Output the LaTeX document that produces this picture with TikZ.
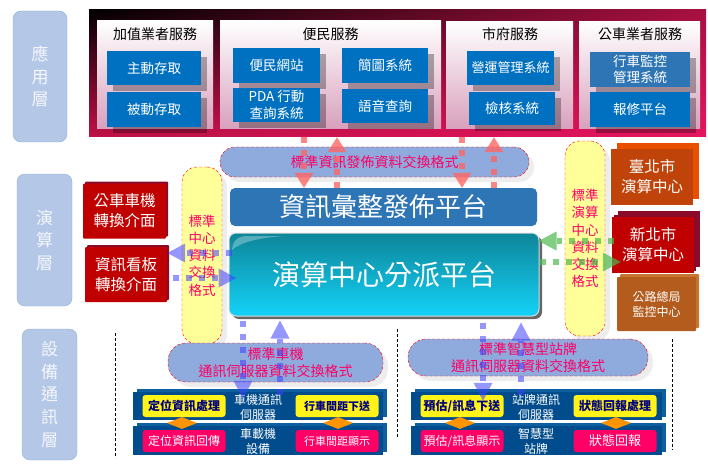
\documentclass[tikz,border=0pt]{standalone}
\usepackage{fontspec}
\setmainfont{Noto Sans CJK TC}
\usepackage{xcolor}
\usetikzlibrary{arrows.meta}
\usetikzlibrary{shadows}
\usetikzlibrary{shadings}
\usetikzlibrary{shapes.geometric}
\definecolor{layerblue}{HTML}{B4C7E7}
\definecolor{layeredge}{HTML}{8FAFD0}
\definecolor{svcblue}{HTML}{0070C0}
\definecolor{pubblue}{HTML}{2E75B6}
\definecolor{formatblue}{HTML}{8FAADC}
\definecolor{formatpink}{HTML}{FF0066}
\definecolor{padyellow}{HTML}{FFFF99}
\definecolor{barblue}{HTML}{004C8C}
\definecolor{barside}{HTML}{0D5FA0}
\definecolor{oldred}{HTML}{C00000}
\definecolor{oldredback}{HTML}{8A0A2A}
\definecolor{oldorange}{HTML}{C0440A}
\definecolor{orangeback}{HTML}{E85000}
\definecolor{oldbrown}{HTML}{B35C1E}
\definecolor{brownback}{HTML}{C9752F}
\definecolor{panelrose}{HTML}{D8A0BC}
\definecolor{bandtop}{HTML}{A81040}
\definecolor{bandleft}{HTML}{C01048}
\definecolor{bandright}{HTML}{E6155F}
\definecolor{dishtop}{HTML}{0D8599}
\definecolor{dishbot}{HTML}{14D2F8}
\tikzset{
    layerbox/.style={draw=layeredge,fill=layerblue,rounded corners=8pt,text=white!85!layerblue,align=center,inner sep=0pt,font=\fontsize{17}{22.5}\selectfont},
    panelbox/.style={top color=white,bottom color=panelrose,inner sep=0pt},
    svcbox/.style={fill=svcblue,text=white,align=center,inner sep=0pt,font=\fontsize{13.5}{16.5}\selectfont,general shadow={shadow xshift=6pt,shadow yshift=-6pt,fill=black,opacity=.3}},
    headtext/.style={inner sep=0pt,font=\fontsize{14}{16}\selectfont},
    formatpill/.style={draw=red,densely dashed,fill=formatblue,rounded corners=15pt,text=formatpink,align=center,inner sep=0pt,font=\fontsize{14}{17.5}\selectfont,general shadow={shadow xshift=5pt,shadow yshift=-5pt,fill=black,opacity=.07}},
    padbox/.style={draw=red,densely dashed,fill=padyellow,rounded corners=15pt,text=formatpink,align=center,inner sep=0pt,font=\fontsize{13.5}{17.25}\selectfont,general shadow={shadow xshift=5pt,shadow yshift=-5pt,fill=black,opacity=.07}},
    cubered/.style={fill=oldred,text=white,align=center,inner sep=0pt,rounded corners=1pt,font=\fontsize{15.5}{20}\selectfont,general shadow={shadow xshift=2pt,shadow yshift=2pt,fill=oldredback}},
    cubeorange/.style={fill=oldorange,text=white,align=center,inner sep=0pt,font=\fontsize{15.5}{20}\selectfont,general shadow={shadow xshift=6pt,shadow yshift=6pt,fill=orangeback}},
    cubebrown/.style={fill=oldbrown,text=white,align=center,inner sep=0pt,rounded corners=1pt,font=\fontsize{12}{15}\selectfont,general shadow={shadow xshift=3pt,shadow yshift=3pt,fill=brownback}},
    barbox/.style={fill=barblue,inner sep=0pt,general shadow={shadow xshift=4pt,shadow yshift=3pt,fill=barside}},
    yellowpad/.style={fill=yellow!90!white,text=blue!50!black,rounded corners=3pt,inner sep=0pt,minimum width=83pt,minimum height=22pt,font=\fontsize{12}{14}\selectfont\bfseries},
    pinkpad/.style={fill=formatpink,text=white,rounded corners=3pt,inner sep=0pt,minimum width=83pt,minimum height=22pt,font=\fontsize{12}{14}\selectfont},
    bartext/.style={text=white,align=center,inner sep=0pt,font=\fontsize{12}{15}\selectfont},
    swapmark/.style={diamond,fill=orange!85!yellow,inner sep=0pt,minimum width=30pt,minimum height=12pt},
    pinkarrow/.style={draw=red!60!white,line width=6pt,dash pattern=on 6pt off 7pt,opacity=.8,-{Triangle[length=15pt,width=19pt,line width=0pt]}},
    bluearrow/.style={draw=blue!75!white,line width=6pt,dash pattern=on 6pt off 7pt,opacity=.55,-{Triangle[length=18pt,width=19pt,line width=0pt]}},
    greenarrow/.style={draw=green!60!black!70!white,line width=6pt,dash pattern=on 6pt off 7pt,opacity=.7,-{Triangle[length=18pt,width=19pt,line width=0pt]}},
    sepline/.style={densely dashed,line width=.5pt}
}
\begin{document}
\begin{tikzpicture}[x=1pt,y=-1pt]
    \useasboundingbox (0,0) rectangle (708,473);
    \node[layerbox,minimum width=54pt,minimum height=131pt] (applayer) at (40,76.5) {應\\用\\層};
    \node[layerbox,minimum width=55pt,minimum height=132pt] (calclayer) at (44.5,240) {演\\算\\層};
    \node[layerbox,minimum width=55pt,minimum height=131pt] (devlayer) at (49.5,394.5) {設\\備\\通\\訊\\層};

    \node[inner sep=0pt,minimum width=617pt,minimum height=127pt,upper left=black,upper right=bandtop,lower left=bandleft,lower right=bandright] (svcband) at (397.5,73.5) {};
    \node[panelbox,minimum width=116pt,minimum height=108pt] (addpanel) at (155,75) {};
    \node[panelbox,minimum width=221pt,minimum height=108pt] (citizenpanel) at (330.5,75) {};
    \node[panelbox,minimum width=127pt,minimum height=107pt] (citypanel) at (509.5,75.5) {};
    \node[panelbox,minimum width=121pt,minimum height=107pt] (buspanel) at (639.5,75.5) {};
    \node[headtext] (addhead) at (155,34) {加值業者服務};
    \node[headtext] (citizenhead) at (330.5,34) {便民服務};
    \node[headtext] (cityhead) at (510,34) {市府服務};
    \node[headtext] (bushead) at (640,34) {公車業者服務};

    \node[svcbox,minimum width=94pt,minimum height=34pt] (active) at (154,68) {主動存取};
    \node[svcbox,minimum width=94pt,minimum height=35pt] (passive) at (154,109.5) {被動存取};
    \node[svcbox,minimum width=87pt,minimum height=35pt] (website) at (276.5,65.5) {便民網站};
    \node[svcbox,minimum width=87pt,minimum height=34pt] (pda) at (276.5,105) {PDA 行動\\查詢系統};
    \node[svcbox,minimum width=86pt,minimum height=35pt] (simple) at (385,65.5) {簡圖系統};
    \node[svcbox,minimum width=86pt,minimum height=34pt] (voice) at (385,106) {語音查詢};
    \node[svcbox,font=\fontsize{13}{16.5}\selectfont,minimum width=87pt,minimum height=34pt] (opsys) at (510.5,68) {營運管理系統};
    \node[svcbox,minimum width=86pt,minimum height=33pt] (check) at (512,108.5) {檢核系統};
    \node[svcbox,fill=pubblue,minimum width=100pt,minimum height=35pt] (monitor) at (640,69.5) {行車監控\\管理系統};
    \node[svcbox,minimum width=100pt,minimum height=35pt] (repair) at (640,109.5) {報修平台};

    \node[padbox,minimum width=40pt,minimum height=177pt] (leftpad) at (202,255.5) {標準\\中心\\資料\\交換\\格式};
    \node[padbox,minimum width=40pt,minimum height=195pt] (rightpad) at (585,238.5) {標準\\演算\\中心\\資料\\交換\\格式};
    \node[formatpill,minimum width=309pt,minimum height=30pt] (pubformat) at (374.5,162) {標準資訊發佈資料交換格式};
    \node[fill=pubblue,text=white,rounded corners=5pt,inner sep=0pt,minimum width=307pt,minimum height=38pt,font=\fontsize{26}{30}\selectfont] (pubbar) at (383.5,207) {資訊彙整發佈平台};
    \node[draw=white!85!black,line width=1pt,top color=dishtop,bottom color=dishbot,text=white,rounded corners=7pt,inner sep=0pt,minimum width=310pt,minimum height=83pt,font=\fontsize{28}{32}\selectfont,general shadow={shadow xshift=3pt,shadow yshift=-3pt,fill=black,opacity=.6}] (dispatch) at (384,274.5) {演算中心分派平台};
    \fill[white,opacity=.3] (232,250) .. controls (233,240) and (238,236) .. (248,236) -- (285,236) .. controls (255,238) and (240,243) .. (232,250);

    \node[cubered,minimum width=83pt,minimum height=55pt] (busconv) at (124.5,211) {公車車機\\轉換介面};
    \node[cubered,minimum width=82pt,minimum height=55pt] (boardconv) at (126,274.5) {資訊看板\\轉換介面};
    \node[cubeorange,minimum width=82pt,minimum height=56pt] (taipei) at (652,177) {臺北市\\演算中心};
    \node[cubebrown,minimum width=79pt,minimum height=54pt] (highway) at (656.5,304) {公路總局\\監控中心};
    \node[cubered,rounded corners=0pt,general shadow={shadow xshift=6pt,shadow yshift=6pt,fill=oldredback},minimum width=82pt,minimum height=56pt] (newtaipei) at (653,245) {新北市\\演算中心};

    \node[barbox,minimum width=250pt,minimum height=28pt] (busserver) at (258,406) {};
    \node[barbox,minimum width=250pt,minimum height=29pt] (busunit) at (258,440.5) {};
    \node[barbox,minimum width=251pt,minimum height=28pt] (signserver) at (536.5,406) {};
    \node[barbox,minimum width=251pt,minimum height=29pt] (signunit) at (536.5,440.5) {};
    \node[bartext] (busservertext) at (258,407.5) {車機通訊\\伺服器};
    \node[bartext] (busunittext) at (258,441.5) {車載機\\設備};
    \node[bartext] (signservertext) at (536,407.5) {站牌通訊\\伺服器};
    \node[bartext] (signunittext) at (536,441.5) {智慧型\\站牌};
    \node[yellowpad] (posproc) at (184,406) {定位資訊處理};
    \node[yellowpad,font=\fontsize{11}{14}\selectfont\bfseries] (gapsend) at (337,406) {行車間距下送};
    \node[pinkpad] (posback) at (184,441) {定位資訊回傳};
    \node[pinkpad,font=\fontsize{11}{14}\selectfont] (gapshow) at (337,441) {行車間距顯示};
    \node[yellowpad] (etasend) at (462,406) {預估/訊息下送};
    \node[yellowpad] (stateproc) at (615,406) {狀態回報處理};
    \node[pinkpad] (etashow) at (462,441) {預估/訊息顯示};
    \node[pinkpad,font=\fontsize{13}{15}\selectfont] (stateback) at (615,441) {狀態回報};
    \node[swapmark] (swapa) at (182,423) {};
    \node[swapmark] (swapb) at (338,423) {};
    \node[swapmark] (swapc) at (460,423) {};
    \node[swapmark] (swapd) at (616,423) {};

    \node[formatpill,rounded corners=18pt,minimum width=215pt,minimum height=39pt] (busformat) at (275.5,362.5) {標準車機\\通訊伺服器資料交換格式};
    \node[formatpill,rounded corners=18pt,minimum width=240pt,minimum height=37pt] (signformat) at (528,357.5) {標準智慧型站牌\\通訊伺服器資料交換格式};

    \coordinate (pubdowna) at (304,0);
    \coordinate (pubupa) at (337,0);
    \coordinate (pubdownb) at (462,0);
    \coordinate (pubupb) at (494,0);
    \coordinate (busdown) at (243,0);
    \coordinate (busup) at (280,0);
    \coordinate (signdown) at (483,0);
    \coordinate (signup) at (521,0);
    \coordinate (boardout) at (0,253);
    \coordinate (boardin) at (0,278);
    \coordinate (cityout) at (0,241);
    \coordinate (cityin) at (0,262);

    \draw[pinkarrow] (svcband.south -| pubdowna) -- (pubbar.north -| pubdowna);
    \draw[pinkarrow] (pubbar.north -| pubupa) -- (svcband.south -| pubupa);
    \draw[pinkarrow] (svcband.south -| pubdownb) -- (pubbar.north -| pubdownb);
    \draw[pinkarrow] (pubbar.north -| pubupb) -- (svcband.south -| pubupb);
    \draw[bluearrow,shorten <=-3pt] (dispatch.west |- boardout) -- (boardconv.east |- boardout);
    \draw[bluearrow,shorten >=-8pt,shorten <=6pt] (boardconv.east |- boardin) -- (dispatch.west |- boardin);
    \draw[greenarrow,shorten <=-2pt,shorten >=-1pt] (newtaipei.west |- cityout) -- (dispatch.east |- cityout);
    \draw[greenarrow,shorten >=-9pt] (dispatch.east |- cityin) -- (newtaipei.west |- cityin);
    \draw[bluearrow,shorten <=4pt,shorten >=-7pt] (dispatch.south -| busdown) -- (busserver.north -| busdown);
    \draw[bluearrow,shorten <=-3pt,shorten >=4pt] (busserver.north -| busup) -- (dispatch.south -| busup);
    \draw[bluearrow,shorten <=6pt,shorten >=-9pt] (dispatch.south -| signdown) -- (signserver.north -| signdown);
    \draw[bluearrow,shorten <=-3pt,shorten >=6pt] (signserver.north -| signup) -- (dispatch.south -| signup);

    \coordinate (sepatop) at (115,333);
    \coordinate (sepabot) at (115,458);
    \coordinate (sepbtop) at (397,329);
    \coordinate (sepbbot) at (397,438);
    \coordinate (sepctop) at (672,339);
    \coordinate (sepcbot) at (672,450);
    \draw[sepline] (sepatop) -- (sepabot);
    \draw[sepline] (sepbtop) -- (sepbbot);
    \draw[sepline] (sepctop) -- (sepcbot);
\end{tikzpicture}
\end{document}
